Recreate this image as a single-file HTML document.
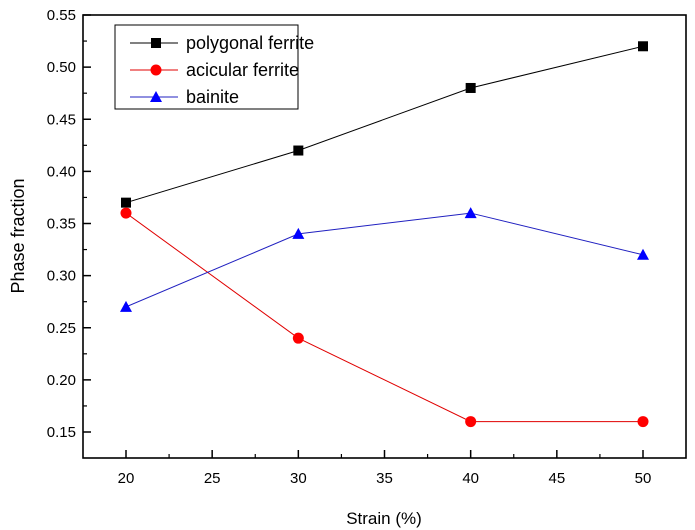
<!DOCTYPE html>
<html><head><meta charset="utf-8"><style>
html,body{margin:0;padding:0;background:#fff;}
svg{display:block;font-family:"Liberation Sans",Arial,sans-serif;}
</style></head><body>
<svg id="chart" width="695" height="530" viewBox="0 0 695 530">
<rect x="83" y="15" width="603" height="443" fill="none" stroke="#000" stroke-width="1.6"/>
<g id="axes"></g>
<g id="series"></g>
<text x="384" y="524" font-size="17" text-anchor="middle">Strain (%)</text>
<text transform="translate(24,236) rotate(-90)" font-size="18" text-anchor="middle">Phase fraction</text>
<g>
<rect x="115" y="25" width="183" height="84" fill="#fff" stroke="#000" stroke-width="1"/>
<g><line x1="130" y1="43" x2="178" y2="43" stroke="#000"/><rect x="151" y="38" width="10" height="10" fill="#000"/><text x="186" y="49" font-size="18">polygonal ferrite</text></g>
<g><line x1="130" y1="70" x2="178" y2="70" stroke="#e00000"/><circle cx="156" cy="70" r="5.5" fill="#ff0000"/><text x="186" y="76" font-size="18">acicular ferrite</text></g>
<g><line x1="130" y1="97" x2="178" y2="97" stroke="#2020c0"/><polygon points="156,91 162,102 150,102" fill="#0000ff"/><text x="186" y="103" font-size="18">bainite</text></g>
</g>
</svg>
<script>
const categories=[20,30,40,50];
const polygonalFerrite=[0.37,0.42,0.48,0.52];
const acicularFerrite=[0.36,0.24,0.16,0.16];
const bainite=[0.27,0.34,0.36,0.32];
const xTicks=[20,25,30,35,40,45,50];
const yTicks=[0.15,0.20,0.25,0.30,0.35,0.40,0.45,0.50,0.55];
const NS="http://www.w3.org/2000/svg";
function xs(v){return 126+(v-20)*(643-126)/30;}
function ys(v){return 432-(v-0.15)*(432-15)/0.4;}
function mk(tag,attrs,parent){const e=document.createElementNS(NS,tag);for(const k in attrs)e.setAttribute(k,attrs[k]);parent.appendChild(e);return e;}
const axes=document.getElementById('axes');
xTicks.forEach(t=>{const x=xs(t);
 const l=mk('line',{x1:x,y1:458,x2:x,y2:450,stroke:'#000','stroke-width':1.5},axes);
 
 
 const tx=mk('text',{x:x,y:483,'font-size':15,'text-anchor':'middle'},axes);tx.textContent=t;
 
 
});
for(let i=0;i<xTicks.length-1;i++){const x=xs((xTicks[i]+xTicks[i+1])/2);mk('line',{x1:x,y1:458,x2:x,y2:454,stroke:'#000','stroke-width':1.2},axes);}
yTicks.forEach(t=>{const y=ys(t);
 const l=mk('line',{x1:83,y1:y,x2:91,y2:y,stroke:'#000','stroke-width':1.5},axes);
 
 
 const tx=mk('text',{x:76,y:y+5,'font-size':15,'text-anchor':'end'},axes);tx.textContent=t.toFixed(2);
 
 
});
for(let i=0;i<yTicks.length-1;i++){const y=ys((yTicks[i]+yTicks[i+1])/2);mk('line',{x1:83,y1:y,x2:87,y2:y,stroke:'#000','stroke-width':1.2},axes);}
const sg=document.getElementById('series');
function draw(vals,color,lineColor,shape,name){
 const pts=categories.map((c,i)=>xs(c)+','+ys(vals[i])).join(' ');
 const pl=mk('polyline',{points:pts,fill:'none',stroke:lineColor,'stroke-width':1},sg);
 
 
 categories.forEach((c,i)=>{const x=xs(c),y=ys(vals[i]);let m;
  if(shape==='sq')m=mk('rect',{x:x-5,y:y-5,width:10,height:10,fill:color},sg);
  else if(shape==='c')m=mk('circle',{cx:x,cy:y,r:5.5,fill:color},sg);
  else m=mk('polygon',{points:`${x},${y-6} ${x+6},${y+5} ${x-6},${y+5}`,fill:color},sg);
  
  
 });
}
draw(polygonalFerrite,'#000','#000','sq','polygonal-ferrite');
draw(acicularFerrite,'#ff0000','#e00000','c','acicular-ferrite');
draw(bainite,'#0000ff','#2020c0','t','bainite');
</script>
</body></html>
